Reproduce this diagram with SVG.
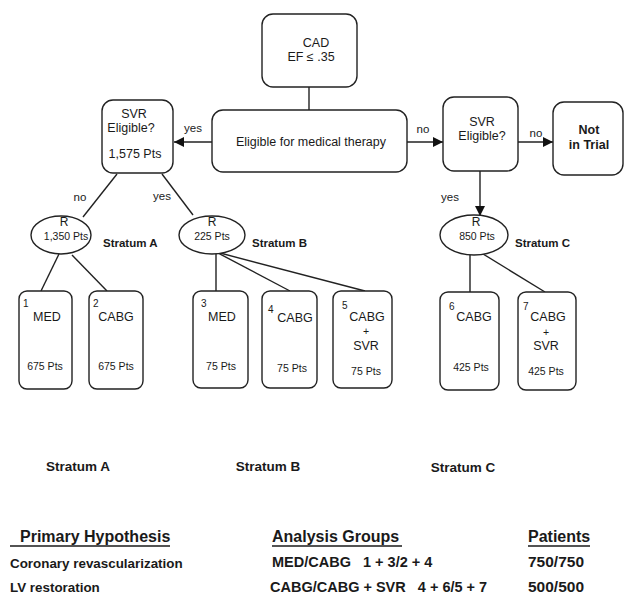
<svg xmlns="http://www.w3.org/2000/svg" width="625" height="594" viewBox="0 0 625 594">
<style>
text{font-family:"Liberation Sans",Arial,sans-serif;fill:#1a1a1a}
.box{fill:#fff;stroke:#222;stroke-width:1.4}
.ln{stroke:#222;stroke-width:1.4;fill:none}
.t{font-size:12.5px;text-anchor:middle}
.r{font-size:12px;text-anchor:middle}
.s{font-size:10.5px;text-anchor:middle}
.n{font-size:10px}
.b{font-weight:bold}
.sl{font-size:11.5px;font-weight:bold}
.bs{font-size:13.5px;font-weight:bold;text-anchor:middle}
.tb{font-size:13.4px;font-weight:bold}
.tm{font-size:14.5px;font-weight:bold}
.tp{font-size:15.5px;font-weight:bold}
.th{font-size:16px;font-weight:bold}
.ul{stroke:#1a1a1a;stroke-width:1.4}
</style>
<defs>
<marker id="ah" viewBox="0 0 10 10" refX="10" refY="5" markerWidth="10" markerHeight="10" markerUnits="userSpaceOnUse" orient="auto">
<path d="M0,0 L10,5 L0,10 Z" fill="#111"/>
</marker>
</defs>
<g id="connectors">
<line class="ln" x1="309" y1="87" x2="309" y2="110"/>
<line class="ln" x1="212" y1="142" x2="174" y2="142" marker-end="url(#ah)"/>
<line class="ln" x1="407" y1="142" x2="443" y2="142" marker-end="url(#ah)"/>
<line class="ln" x1="518" y1="142" x2="553" y2="142" marker-end="url(#ah)"/>
<line class="ln" x1="480" y1="171" x2="480" y2="216" marker-end="url(#ah)"/>
<line class="ln" x1="117" y1="174" x2="83" y2="217"/>
<line class="ln" x1="162" y1="174" x2="193" y2="215"/>
<line class="ln" x1="59" y1="254" x2="41" y2="291"/>
<line class="ln" x1="72" y1="255" x2="107" y2="291"/>
<line class="ln" x1="216" y1="253" x2="216" y2="291"/>
<line class="ln" x1="218" y1="253" x2="290" y2="291"/>
<line class="ln" x1="220" y1="253" x2="365" y2="291"/>
<line class="ln" x1="470" y1="254" x2="470" y2="292"/>
<line class="ln" x1="483" y1="254" x2="545" y2="292"/>
<text x="193" y="132" class="t" style="font-size:11.5px">yes</text>
<text x="423" y="133" class="t" style="font-size:11.5px">no</text>
<text x="536" y="137" class="t" style="font-size:11.5px">no</text>
<text x="450" y="201" class="t" style="font-size:11.5px">yes</text>
<text x="80" y="201" class="t" style="font-size:11.5px">no</text>
<text x="162" y="200" class="t" style="font-size:11.5px">yes</text>
</g>
<g id="cad">
<rect class="box" x="262" y="14" width="95" height="73" rx="11"/>
<text x="316" y="47" class="t">CAD</text>
<text x="311" y="61" class="t">EF ≤ .35</text>
</g>
<g id="eligible">
<rect class="box" x="212" y="110" width="195" height="62" rx="11"/>
<text x="311" y="146" class="t">Eligible for medical therapy</text>
</g>
<g id="svr-left">
<rect class="box" x="102" y="100" width="71" height="73" rx="11"/>
<text x="134" y="118" class="t">SVR</text>
<text x="131" y="132" class="t">Eligible?</text>
<text x="135" y="158" class="t">1,575 Pts</text>
</g>
<g id="svr-right">
<rect class="box" x="443" y="97" width="75" height="74" rx="11"/>
<text x="482" y="126" class="t">SVR</text>
<text x="482" y="140" class="t">Eligible?</text>
</g>
<g id="not-in-trial">
<rect class="box" x="553" y="102" width="70" height="73" rx="11"/>
<text x="589" y="134" class="t b">Not</text>
<text x="589" y="149" class="t b">in Trial</text>
</g>
<g id="r-a">
<ellipse class="box" cx="61" cy="235" rx="30" ry="19"/>
<text x="64" y="226" class="r">R</text>
<text x="66" y="240" class="s">1,350 Pts</text>
<text x="103" y="247" class="sl">Stratum A</text>
</g>
<g id="r-b">
<ellipse class="box" cx="212" cy="235" rx="33" ry="19"/>
<text x="212" y="226" class="r">R</text>
<text x="212" y="240" class="s">225 Pts</text>
<text x="252" y="247" class="sl">Stratum B</text>
</g>
<g id="r-c">
<ellipse class="box" cx="474" cy="235" rx="34" ry="20"/>
<text x="476" y="226" class="r">R</text>
<text x="477" y="240" class="s">850 Pts</text>
<text x="515" y="247" class="sl">Stratum C</text>
</g>
<g id="arm1">
<rect class="box" x="19" y="291" width="53" height="98" rx="8"/>
<text x="23" y="307" class="n">1</text>
<text x="47" y="321" class="t">MED</text>
<text x="45" y="370" class="s">675 Pts</text>
</g>
<g id="arm2">
<rect class="box" x="89" y="291" width="54" height="98" rx="8"/>
<text x="93" y="307" class="n">2</text>
<text x="116" y="321" class="t">CABG</text>
<text x="116" y="370" class="s">675 Pts</text>
</g>
<g id="arm3">
<rect class="box" x="193" y="291" width="55" height="97" rx="8"/>
<text x="201" y="307" class="n">3</text>
<text x="222" y="321" class="t">MED</text>
<text x="221" y="370" class="s">75 Pts</text>
</g>
<g id="arm4">
<rect class="box" x="262" y="291" width="55" height="97" rx="8"/>
<text x="268" y="313" class="n">4</text>
<text x="295" y="322" class="t">CABG</text>
<text x="292" y="372" class="s">75 Pts</text>
</g>
<g id="arm5">
<rect class="box" x="333" y="291" width="59" height="97" rx="8"/>
<text x="342" y="309" class="n">5</text>
<text x="367" y="321" class="t">CABG</text>
<text x="366" y="335" class="s">+</text>
<text x="366" y="350" class="t">SVR</text>
<text x="366" y="375" class="s">75 Pts</text>
</g>
<g id="arm6">
<rect class="box" x="440" y="292" width="59" height="98" rx="8"/>
<text x="449" y="310" class="n">6</text>
<text x="474" y="321" class="t">CABG</text>
<text x="471" y="371" class="s">425 Pts</text>
</g>
<g id="arm7">
<rect class="box" x="518" y="292" width="58" height="98" rx="8"/>
<text x="523" y="310" class="n">7</text>
<text x="548" y="321" class="t">CABG</text>
<text x="546" y="336" class="s">+</text>
<text x="546" y="350" class="t">SVR</text>
<text x="546" y="375" class="s">425 Pts</text>
</g>
<g id="strata">
<text x="78" y="471" class="bs">Stratum A</text>
<text x="268" y="471" class="bs">Stratum B</text>
<text x="463" y="472" class="bs">Stratum C</text>
</g>
<g id="table">
<text x="20" y="542" class="th">Primary Hypothesis</text>
<line class="ul" x1="10" y1="546" x2="170" y2="546"/>
<text x="10" y="568" class="tb">Coronary revascularization</text>
<text x="10" y="592" class="tb">LV restoration</text>
<text x="272" y="542" class="th">Analysis Groups</text>
<line class="ul" x1="272" y1="546" x2="402" y2="546"/>
<text x="272" y="567" class="tm" xml:space="preserve">MED/CABG   1 + 3/2 + 4</text>
<text x="270" y="592" class="tm" xml:space="preserve">CABG/CABG + SVR   4 + 6/5 + 7</text>
<text x="528" y="542" class="th">Patients</text>
<line class="ul" x1="528" y1="546" x2="590" y2="546"/>
<text x="528" y="567" class="tp">750/750</text>
<text x="528" y="592" class="tp">500/500</text>
</g>
</svg>
